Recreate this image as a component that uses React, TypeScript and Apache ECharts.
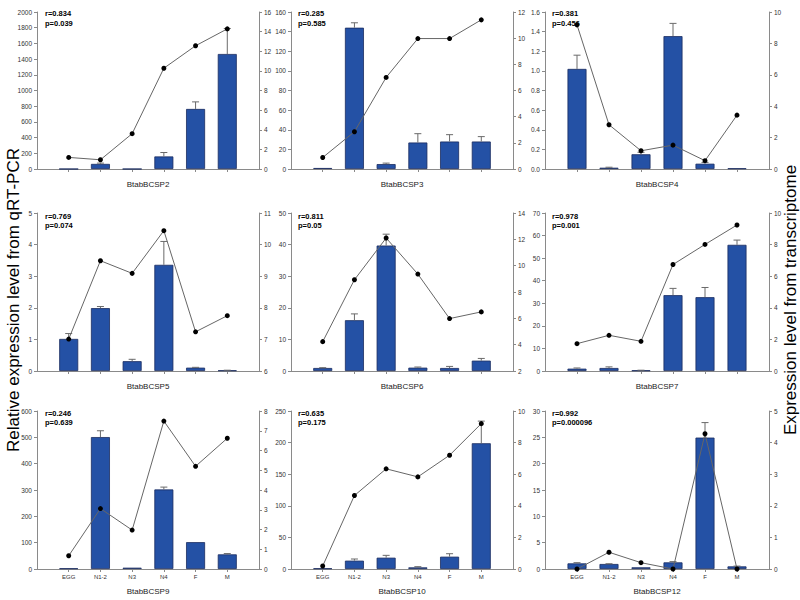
import React, { useEffect, useRef } from 'react';
import * as echarts from 'echarts';

// ---------- data ----------
const CATEGORIES = ['EGG', 'N1-2', 'N3', 'N4', 'F', 'M'];
const GENES = ['BtabBCSP2', 'BtabBCSP3', 'BtabBCSP4', 'BtabBCSP5', 'BtabBCSP6', 'BtabBCSP7', 'BtabBCSP9', 'BtabBCSP10', 'BtabBCSP12'];
const R_VALUES = ['0.834', '0.285', '0.381', '0.769', '0.811', '0.978', '0.246', '0.635', '0.992'];
const P_VALUES = ['0.039', '0.585', '0.456', '0.074', '0.05', '0.001', '0.639', '0.175', '0.000096'];

// qRT-PCR (bars, left axis), errors, transcriptome (line, right axis)
const QPCR_BCSP2 = [0, 65, 0, 160, 765, 1465];
const ERR_BCSP2 = [0, 10, 0, 50, 90, 325];
const TRANS_BCSP2 = [1.18, 0.94, 3.6, 10.27, 12.56, 14.28];

const QPCR_BCSP3 = [1, 144, 5, 27, 28, 28];
const ERR_BCSP3 = [0, 5, 1, 9, 7, 5];
const TRANS_BCSP3 = [0.88, 2.85, 7.0, 9.97, 9.97, 11.4];

const QPCR_BCSP4 = [1.02, 0.013, 0.15, 1.354, 0.054, 0.007];
const ERR_BCSP4 = [0.14, 0.005, 0.02, 0.13, 0.013, 0];
const TRANS_BCSP4 = [9.18, 2.82, 1.16, 1.52, 0.53, 3.43];

const QPCR_BCSP5 = [1.015, 1.99, 0.31, 3.36, 0.106, 0.02];
const ERR_BCSP5 = [0.17, 0.05, 0.06, 0.74, 0.01, 0.005];
const TRANS_BCSP5 = [7.01, 9.49, 9.09, 10.44, 7.24, 7.75];

const QPCR_BCSP6 = [0.95, 16.07, 39.7, 1.06, 0.95, 3.28];
const ERR_BCSP6 = [0.1, 2.0, 3.6, 0.2, 0.5, 0.7];
const TRANS_BCSP6 = [4.23, 8.93, 12.1, 9.36, 5.98, 6.49];

const QPCR_BCSP7 = [1.04, 1.33, 0.3, 33.6, 32.7, 55.9];
const ERR_BCSP7 = [0.3, 0.5, 0.05, 3.0, 4.3, 2.1];
const TRANS_BCSP7 = [1.73, 2.26, 1.88, 6.74, 8.01, 9.24];

const QPCR_BCSP9 = [2.5, 501, 5, 302, 102, 55.6];
const ERR_BCSP9 = [0, 24, 0, 9, 0, 3];
const TRANS_BCSP9 = [0.67, 3.06, 1.97, 7.49, 5.2, 6.62];

const QPCR_BCSP10 = [1, 13.2, 17.9, 2.6, 19.5, 199];
const ERR_BCSP10 = [0, 2.6, 3.7, 1.1, 4.7, 35];
const TRANS_BCSP10 = [0.19, 4.65, 6.34, 5.83, 7.2, 9.2];

const QPCR_BCSP12 = [1.07, 0.95, 0.32, 1.26, 24.95, 0.5];
const ERR_BCSP12 = [0.13, 0.05, 0, 0.14, 2.85, 0.05];
const TRANS_BCSP12 = [0, 0.53, 0.2, 0, 4.28, 0];

const QPCR = [QPCR_BCSP2, QPCR_BCSP3, QPCR_BCSP4, QPCR_BCSP5, QPCR_BCSP6, QPCR_BCSP7, QPCR_BCSP9, QPCR_BCSP10, QPCR_BCSP12];
const ERRS = [ERR_BCSP2, ERR_BCSP3, ERR_BCSP4, ERR_BCSP5, ERR_BCSP6, ERR_BCSP7, ERR_BCSP9, ERR_BCSP10, ERR_BCSP12];
const TRANS = [TRANS_BCSP2, TRANS_BCSP3, TRANS_BCSP4, TRANS_BCSP5, TRANS_BCSP6, TRANS_BCSP7, TRANS_BCSP9, TRANS_BCSP10, TRANS_BCSP12];

// axis ranges
const LEFT_MAX = [2000, 160, 1.6, 5, 50, 70, 600, 250, 30];
const LEFT_STEP = [200, 20, 0.2, 1, 10, 10, 100, 50, 5];
const RIGHT_MIN = [0, 0, 0, 6, 2, 0, 0, 0, 0];
const RIGHT_MAX = [16, 12, 10, 11, 14, 10, 8, 10, 5];
const RIGHT_STEP = [2, 2, 2, 1, 2, 2, 1, 2, 1];

const LEFT_TITLE = 'Relative expression level from qRT-PCR';
const RIGHT_TITLE = 'Expression level from transcriptome';

// ---------- layout ----------
const COL_LEFT = [37, 291, 545];
const COL_WIDTH = [222, 222, 224];
const ROW_TOP = [12, 213, 411];
const ROW_HEIGHT = [157, 158, 158];
const TEXT_X = [45, 298, 552];
const TEXT_Y = [9, 211.5, 408.5];

const FONT = '"Liberation Sans", Arial, Helvetica, sans-serif';
const AXIS_COLOR = '#8a8a8a';
const LABEL_COLOR = '#333';
const BAR_COLOR = '#2451a5';

function buildOption() {
  const axisCats = ['', ...CATEGORIES, ''];
  const grid: any[] = [];
  const xAxis: any[] = [];
  const yAxis: any[] = [];
  const series: any[] = [];
  const graphic: any[] = [];

  GENES.forEach((gene, g) => {
    const row = Math.floor(g / 3);
    const col = g % 3;
    grid.push({
      left: COL_LEFT[col],
      top: ROW_TOP[row],
      width: COL_WIDTH[col],
      height: ROW_HEIGHT[row],
      containLabel: false,
    });
    xAxis.push({
      type: 'category',
      gridIndex: g,
      data: axisCats,
      boundaryGap: false,
      axisLine: { show: true, onZero: false, lineStyle: { color: AXIS_COLOR, width: 1 } },
      axisTick: {
        show: true,
        length: 3,
        interval: (i: number) => i > 0 && i < axisCats.length - 1,
        lineStyle: { color: AXIS_COLOR },
      },
      axisLabel: {
        show: row === 2,
        interval: 0,
        fontSize: 6,
        color: LABEL_COLOR,
        margin: 5,
        fontFamily: FONT,
      },
      splitLine: { show: false },
      name: gene,
      nameLocation: 'middle',
      nameGap: row === 2 ? 18 : 11,
      nameTextStyle: { fontSize: 8, color: '#222', fontFamily: FONT },
    });
    const lstep = LEFT_STEP[g];
    yAxis.push({
      type: 'value',
      gridIndex: g,
      position: 'left',
      min: 0,
      max: LEFT_MAX[g],
      interval: lstep,
      axisLine: { show: true, lineStyle: { color: AXIS_COLOR, width: 1 } },
      axisTick: { show: true, length: 3, lineStyle: { color: AXIS_COLOR } },
      axisLabel: {
        fontSize: 6.5,
        color: LABEL_COLOR,
        margin: 5,
        fontFamily: FONT,
        formatter: (v: number) => (lstep < 1 ? v.toFixed(1) : String(Math.round(v))),
      },
      splitLine: { show: false },
    });
    yAxis.push({
      type: 'value',
      gridIndex: g,
      position: 'right',
      min: RIGHT_MIN[g],
      max: RIGHT_MAX[g],
      interval: RIGHT_STEP[g],
      axisLine: { show: true, lineStyle: { color: AXIS_COLOR, width: 1 } },
      axisTick: { show: true, length: 3, lineStyle: { color: AXIS_COLOR } },
      axisLabel: {
        fontSize: 6.5,
        color: LABEL_COLOR,
        margin: 5,
        fontFamily: FONT,
        formatter: (v: number) => String(Math.round(v)),
      },
      splitLine: { show: false },
    });

    series.push({
      type: 'bar',
      xAxisIndex: g,
      yAxisIndex: 2 * g,
      barWidth: 19,
      data: QPCR[g].map((v, i) => [i + 1, v]),
      itemStyle: { color: BAR_COLOR, borderColor: '#1a2c60', borderWidth: 0.8 },
      z: 2,
    });
    series.push({
      type: 'custom',
      xAxisIndex: g,
      yAxisIndex: 2 * g,
      data: QPCR[g].map((v, i) => [i + 1, v, v + ERRS[g][i]]),
      encode: { x: 0, y: [1, 2] },
      z: 3,
      renderItem: (_p: any, api: any) => {
        const x = api.value(0);
        const lo = api.value(1);
        const hi = api.value(2);
        if (!(hi > lo)) return { type: 'group', children: [] };
        const a = api.coord([x, lo]);
        const b = api.coord([x, hi]);
        const st = { stroke: '#6a6a6a', lineWidth: 1 };
        return {
          type: 'group',
          children: [
            { type: 'line', shape: { x1: a[0], y1: a[1], x2: b[0], y2: b[1] }, style: st },
            { type: 'line', shape: { x1: b[0] - 3.5, y1: b[1], x2: b[0] + 3.5, y2: b[1] }, style: st },
          ],
        };
      },
    });
    series.push({
      type: 'line',
      xAxisIndex: g,
      yAxisIndex: 2 * g + 1,
      data: TRANS[g].map((v, i) => [i + 1, v]),
      symbol: 'circle',
      symbolSize: 5,
      itemStyle: { color: '#000' },
      lineStyle: { color: '#666', width: 1 },
      z: 4,
    });

    graphic.push({
      type: 'text',
      x: TEXT_X[col],
      y: TEXT_Y[row],
      z: 10,
      style: {
        text: `r=${R_VALUES[g]}\np=${P_VALUES[g]}`,
        font: `bold 7.5px ${FONT}`,
        fill: '#000',
        lineHeight: 9.5,
        textAlign: 'left',
        align: 'left',
        textVerticalAlign: 'top',
        verticalAlign: 'top',
      },
    });
  });

  graphic.push({
    type: 'text',
    x: 13,
    y: 300,
    rotation: Math.PI / 2,
    style: {
      text: LEFT_TITLE,
      font: `17px ${FONT}`,
      fill: '#000',
      textAlign: 'center',
      align: 'center',
      textVerticalAlign: 'middle',
      verticalAlign: 'middle',
    },
  });
  graphic.push({
    type: 'text',
    x: 790,
    y: 300,
    rotation: Math.PI / 2,
    style: {
      text: RIGHT_TITLE,
      font: `17px ${FONT}`,
      fill: '#000',
      textAlign: 'center',
      align: 'center',
      textVerticalAlign: 'middle',
      verticalAlign: 'middle',
    },
  });

  return {
    animation: false,
    backgroundColor: '#fff',
    textStyle: { fontFamily: FONT },
    grid,
    xAxis,
    yAxis,
    series,
    graphic,
  };
}

export default function App() {
  const ref = useRef<HTMLDivElement>(null);
  useEffect(() => {
    if (!ref.current) return;
    const chart = echarts.init(ref.current, null, { renderer: 'svg' });
    chart.setOption(buildOption() as any);
    return () => chart.dispose();
  }, []);
  return (
    <div
      ref={ref}
      style={{ position: 'fixed', left: 0, top: 0, width: 800, height: 600, background: '#fff' }}
    />
  );
}
